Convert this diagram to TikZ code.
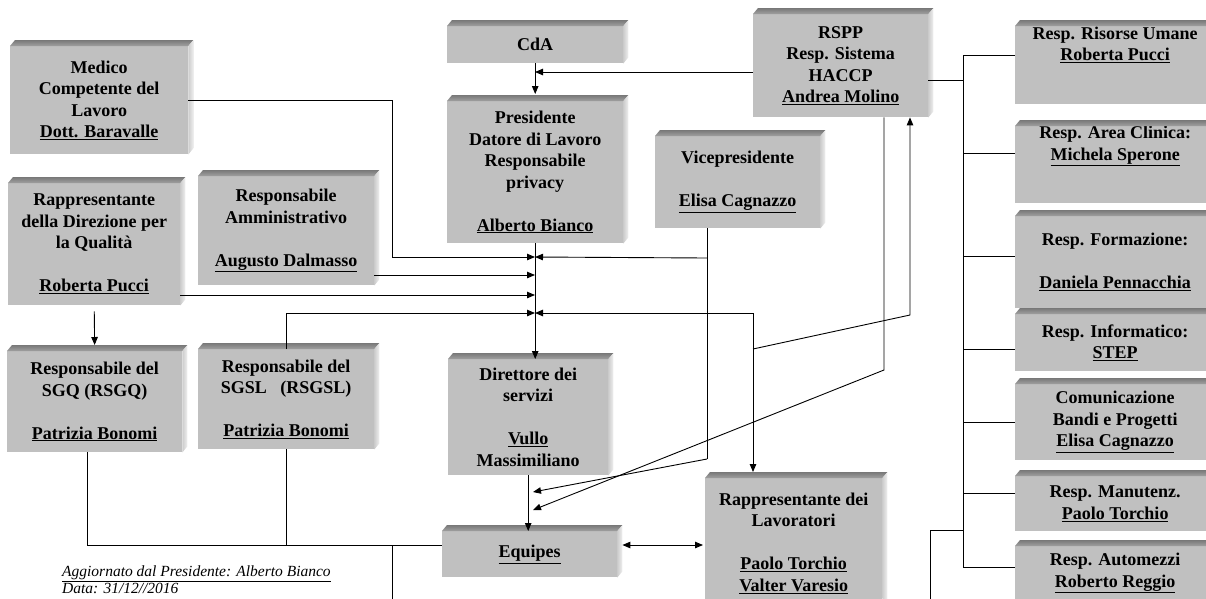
\documentclass[tikz,border=0pt]{standalone}
\usepackage{fontspec}
\setmainfont{Liberation Serif}
\usepackage{tikz}
\usetikzlibrary{arrows.meta}

\definecolor{facegray}{RGB}{192,192,192}
\definecolor{bevdark}{RGB}{120,120,120}
\definecolor{bevmid}{RGB}{160,160,160}
\definecolor{sidelight}{RGB}{240,240,240}
\definecolor{sidemid}{RGB}{205,205,205}

\tikzset{
  box/.style={fill=facegray, inner sep=0pt, anchor=north west, align=center,
    font=\bfseries\fontsize{18}{21.5}\selectfont},
  sz/.style 2 args={minimum width=#1pt, minimum height=#2pt},
  conn/.style={line width=0.9pt},
  arr/.style={conn, -{Triangle[length=8pt,width=6.5pt]}},
  arrs/.style={conn, {Triangle[length=8pt,width=6.5pt]}-{Triangle[length=8pt,width=6.5pt]}},
  foot/.style={anchor=base west, inner sep=0pt, font=\itshape\fontsize{15.5}{17}\selectfont},
}

\begin{document}
\begin{tikzpicture}[x=1pt, y=-1pt]
  \useasboundingbox (0,0) rectangle (1206,598);

  % left and centre boxes
  \node[box, sz={178}{108}] (medico) at (10,46)
    {Medico\\Competente del\\Lavoro\\\underline{Dott. Baravalle}};
  \node[box, sz={172}{122}] (rdir) at (8,183)
    {Rappresentante\\della Direzione per\\la Qualità\\[21.5pt]\underline{Roberta Pucci}};
  \node[box, sz={176}{109}] (amm) at (198,176)
    {Responsabile\\Amministrativo\\[21.5pt]\underline{Augusto Dalmasso}};
  \node[box, sz={176}{37}] (cda) at (447,26) {CdA};
  \node[box, sz={176}{142}] (pres) at (447,101)
    {Presidente\\Datore di Lavoro\\Responsabile\\privacy\\[21.5pt]\underline{Alberto Bianco}};
  \node[box, sz={165}{92}] (vice) at (655,136)
    {Vicepresidente\\[21.5pt]\underline{Elisa Cagnazzo}};
  \node[box, sz={175}{103}] (rspp) at (753,14)
    {RSPP\\Resp. Sistema\\HACCP\\\underline{Andrea Molino}};
  \node[box, sz={175}{101}] (sgq) at (7,351)
    {Responsabile del\\SGQ (RSGQ)\\[21.5pt]\underline{Patrizia Bonomi}};
  \node[box, sz={176}{100}] (sgsl) at (198,349)
    {Responsabile del\\SGSL\ \ \ (RSGSL)\\[21.5pt]\underline{Patrizia Bonomi}};
  \node[box, sz={160}{116}] (dir) at (448,359)
    {Direttore dei\\servizi\\[21.5pt]\underline{Vullo}\\Massimiliano};
  \node[box, sz={175}{46}] (equ) at (442,531) {\underline{Equipes}};
  \node[box, sz={177}{130}] (rlav) at (705,478)
    {Rappresentante dei\\Lavoratori\\[21.5pt]\underline{Paolo Torchio}\\\underline{Valter Varesio}};

  % right column
  \node[box, sz={200}{78}] (rru) at (1015,26)
    {Resp. Risorse Umane\\\underline{Roberta Pucci}\\[21.5pt]};
  \node[box, sz={200}{76}] (rarea) at (1015,126)
    {Resp. Area Clinica:\\\underline{Michela Sperone}\\[21.5pt]};
  \node[box, sz={200}{92}] (rform) at (1015,216)
    {Resp. Formazione:\\[21.5pt]\underline{Daniela Pennacchia}};
  \node[box, sz={200}{57}] (rinf) at (1015,314)
    {Resp. Informatico:\\\underline{STEP}};
  \node[box, sz={200}{76}] (rcom) at (1015,384)
    {Comunicazione\\Bandi e Progetti\\\underline{Elisa Cagnazzo}};
  \node[box, sz={200}{55}] (rman) at (1015,476)
    {Resp. Manutenz.\\\underline{Paolo Torchio}};
  \node[box, sz={200}{54}] (raut) at (1015,546)
    {Resp. Automezzi\\\underline{Roberto Reggio}};

  % bevels
  \foreach \n in {medico,rdir,amm,cda,pres,vice,rspp,sgq,sgsl,dir,equ,rlav,
                  rru,rarea,rform,rinf,rcom,rman,raut} {
    \shade[top color=bevdark, bottom color=bevmid]
      (\n.north west) -- ++(5,-6) -- ([shift={(5,-6)}]\n.north east) -- (\n.north east) -- cycle;
    \shade[left color=sidemid, right color=sidelight]
      (\n.north east) -- ++(5,-6) -- ([shift={(5,-6)}]\n.south east) -- (\n.south east) -- cycle;
  }

  % junctions
  \coordinate (jcda) at (535,72);
  \coordinate (kmed) at (392,257);
  \coordinate (jmed) at (535,257);
  \coordinate (jamm) at (535,275);
  \coordinate (jrdir) at (535,295);
  \coordinate (jsgsl) at (535,313);
  \coordinate (kv1) at (707,258);
  \coordinate (kv2) at (707,459);
  \coordinate (klav) at (753,313);
  \coordinate (klav2) at (753,349);
  \coordinate (krs) at (910,315);
  \coordinate (krs2) at (884,370);
  \coordinate (jequ1) at (533,492);
  \coordinate (jequ2) at (533,510);
  \coordinate (kb1) at (87,545);
  \coordinate (kb2) at (392,545);
  \coordinate (kb3) at (392,610);

  % centre
  \draw[arr, shorten >=7pt] (cda.south) -- (pres.north);
  \draw[arr] (rspp.west |- jcda) -- (jcda);
  \draw[arr] (pres.south) -- (pres.south |- dir.north);
  \draw[arr] (dir.south) -- (dir.south |- equ.north);
  \draw[arr] (medico.east) -| (kmed) -- (jmed);
  \draw[arr] (amm.east |- jamm) -- (jamm);
  \draw[arr] (rdir.east |- jrdir) -- (jrdir);
  \draw[arr] (sgsl.north) |- (jsgsl);
  \draw[conn] (kv1 |- vice.south) -- (kv2);
  \draw[arr] (kv1) -- (jmed);
  \draw[arr] (kv2) -- (jequ1);
  \draw[arr] (klav) -- (jsgsl);
  \draw[arr, shorten >=6pt] (klav) -- (klav |- rlav.north);
  \draw[arr] (klav2) -- (krs) -- (krs |- rspp.south);
  \draw[arr] (krs2 |- rspp.south) -- (krs2) -- (jequ2);
  \draw[arr, shorten <=6pt, shorten >=6pt] (rdir.south) -- (sgq.north);

  % bottom
  \draw[conn] (kb1 |- sgq.south) -- (kb1) -- (equ.west |- kb1);
  \draw[conn] (sgsl.south) -- (sgsl.south |- kb1);
  \draw[conn] (kb2) -- (kb3);
  \draw[arrs, shorten <=5pt, shorten >=2pt] (equ.east |- kb1) -- (rlav.west |- kb1);

  % right column links
  \foreach \n/\y in {rru/55, rarea/153, rform/256, rinf/349, rcom/422, rman/493, raut/567} {
    \coordinate (t\n) at (963,\y);
    \draw[conn] (t\n) -- (\n.west |- t\n);
  }
  \coordinate (trs) at (963,80);
  \coordinate (tlo1) at (963,530);
  \coordinate (tlo2) at (930,530);
  \coordinate (tlo3) at (930,610);
  \draw[conn] (trru) -- (traut);
  \draw[conn] (rspp.east |- trs) -- (trs);
  \draw[conn] (tlo1) -- (tlo2) -- (tlo3);

  % footer
  \node[foot] (upd) at (62,576) {\underline{Aggiornato dal Presidente: Alberto Bianco}};
  \node[foot] (date) at (62,593) {Data: 31/12//2016};
\end{tikzpicture}
\end{document}
